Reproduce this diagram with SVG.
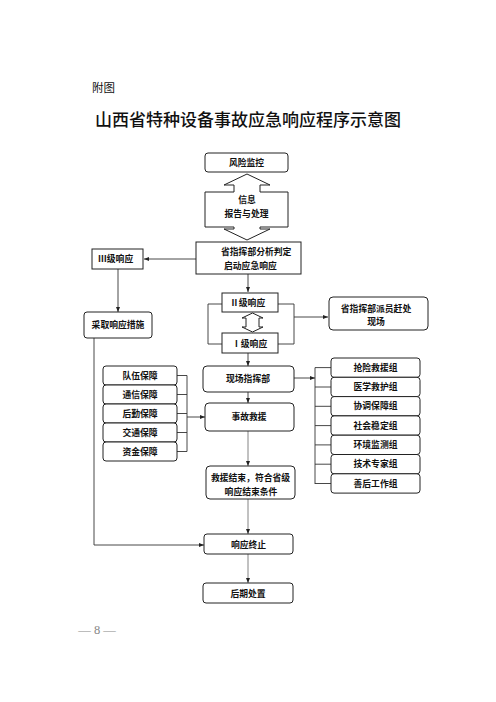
<svg xmlns="http://www.w3.org/2000/svg" width="496" height="702" viewBox="0 0 496 702">
<style>
.t{font-family:"Noto Sans CJK SC","Noto Sans CJK JP",sans-serif;font-size:8.8px;font-weight:bold;fill:#111}
.c{text-anchor:middle}
.b{fill:#fff;stroke:#222;stroke-width:1}
.l{fill:none;stroke:#333;stroke-width:0.9}
.g{fill:none;stroke:#777;stroke-width:0.9}
</style>
<defs>
<marker id="a" viewBox="0 0 10 10" refX="10" refY="5" markerWidth="5" markerHeight="5" markerUnits="userSpaceOnUse" orient="auto"><path d="M0,1 L10,5 L0,9 z" fill="#222"/></marker>
</defs>
<rect width="496" height="702" fill="#fff"/>
<text x="92" y="91.5" font-family="Noto Sans CJK SC,sans-serif" font-size="11.5" fill="#111">附图</text>
<text x="248" y="126" text-anchor="middle" font-family="Noto Sans CJK SC,sans-serif" font-size="17" font-weight="500" fill="#111">山西省特种设备事故应急响应程序示意图</text>

<g id="connectors">
<line class="l" x1="196" y1="259" x2="144" y2="259" marker-end="url(#a)"/>
<line class="l" x1="248" y1="274" x2="248" y2="292" marker-end="url(#a)"/>
<line class="l" x1="118" y1="269" x2="118" y2="312" marker-end="url(#a)"/>
<path class="l" d="M222 304 H208 V344 H222 M278 304 H294 V344 H278"/>
<line class="l" x1="294" y1="317" x2="328" y2="317" marker-end="url(#a)"/>
<line class="l" x1="248" y1="353" x2="248" y2="366" marker-end="url(#a)"/>
<line class="l" x1="248" y1="392" x2="248" y2="403" marker-end="url(#a)"/>
<line class="g" x1="248" y1="431" x2="248" y2="466" marker-end="url(#a)"/>
<line class="g" x1="248" y1="499" x2="248" y2="534" marker-end="url(#a)"/>
<line class="g" x1="248" y1="554" x2="248" y2="583" marker-end="url(#a)"/>
<path class="l" d="M94 338 V545 H204" marker-end="url(#a)"/>
<path class="l" d="M177 375.5 H187 M177 394.5 H187 M177 413.5 H187 M177 432.5 H187 M177 451.5 H187 M187 375.5 V451.5"/>
<line class="l" x1="187" y1="417" x2="205" y2="417" marker-end="url(#a)"/>
<path class="l" d="M315 367.6 V484 M315 367.6 H331 M315 387 H331 M315 406.3 H331 M315 425.6 H331 M315 444.9 H331 M315 464.2 H331 M315 483.5 H331"/>
<line class="l" x1="294" y1="378" x2="315" y2="378" marker-end="url(#a)"/>
</g>

<g id="n-risk"><rect class="b" x="205" y="153" width="83" height="19" rx="3"/><text class="t c" x="246.5" y="166">风险监控</text></g>
<g id="n-info"><path class="b" d="M247 174 L270 185 L260 185 L260 192 L288 192 L288 227 L260 227 L260 229 L270 229 L247 240 L224 229 L234 229 L234 227 L205 227 L205 192 L234 192 L234 185 L224 185 Z"/><text class="t c" x="247" y="203">信息</text><text class="t c" x="246.5" y="216.5">报告与处理</text></g>
<g id="n-judge"><rect class="b" x="196" y="242" width="105" height="32"/><text class="t" x="221" y="255">省指挥部分析判定</text><text class="t" x="224" y="269">启动应急响应</text></g>
<g id="n-l3"><rect class="b" x="92" y="249" width="51" height="20"/><text class="t" x="98" y="262">Ⅲ级响应</text></g>
<g id="n-take"><rect class="b" x="84" y="312" width="68" height="26" rx="3"/><text class="t c" x="118" y="328">采取响应措施</text></g>
<g id="n-l2"><rect class="b" x="222" y="293" width="56" height="19"/><text class="t" x="230" y="306">Ⅱ级响应</text></g>
<g id="n-dbl"><path class="b" d="M252.5 313 L263 318 L259 318 L259 327 L263 327 L252.5 332 L242 327 L246 327 L246 318 L242 318 Z"/></g>
<g id="n-l1"><rect class="b" x="222" y="333" width="56" height="20"/><text class="t" x="232" y="346.5">Ⅰ级响应</text></g>
<g id="n-send"><rect class="b" x="329" y="297" width="99" height="33" rx="4"/><text class="t c" x="376" y="312">省指挥部派员赶处</text><text class="t c" x="376" y="325">现场</text></g>
<g id="n-site"><rect class="b" x="203" y="366" width="91" height="26" rx="4"/><text class="t c" x="248" y="382">现场指挥部</text></g>
<g id="n-rescue"><rect class="b" x="205" y="403" width="89" height="28" rx="4"/><text class="t c" x="249" y="420">事故救援</text></g>
<g id="n-end-cond"><rect class="b" x="206" y="466" width="89" height="33" rx="4"/><text class="t c" x="250.5" y="480.5">救援结束，符合省级</text><text class="t c" x="251" y="494.5">响应结束条件</text></g>
<g id="n-stop"><rect class="b" x="204" y="534" width="89" height="20" rx="3"/><text class="t c" x="248.5" y="548">响应终止</text></g>
<g id="n-after"><rect class="b" x="203" y="583" width="90" height="20" rx="3"/><text class="t c" x="248" y="597">后期处置</text></g>

<g id="n-s1"><rect class="b" x="103" y="366" width="74" height="19" rx="3"/><text class="t c" x="140" y="378.5">队伍保障</text></g>
<g id="n-s2"><rect class="b" x="103" y="385" width="74" height="19" rx="3"/><text class="t c" x="140" y="397.5">通信保障</text></g>
<g id="n-s3"><rect class="b" x="103" y="404" width="74" height="19" rx="3"/><text class="t c" x="140" y="416.5">后勤保障</text></g>
<g id="n-s4"><rect class="b" x="103" y="423" width="74" height="19" rx="3"/><text class="t c" x="140" y="435.5">交通保障</text></g>
<g id="n-s5"><rect class="b" x="103" y="442" width="74" height="19" rx="3"/><text class="t c" x="140" y="454.5">资金保障</text></g>

<g id="n-g1"><rect class="b" x="331" y="358" width="89" height="19.3" rx="3"/><text class="t c" x="375.5" y="370.8">抢险救援组</text></g>
<g id="n-g2"><rect class="b" x="331" y="377.3" width="89" height="19.3" rx="3"/><text class="t c" x="375.5" y="390.1">医学救护组</text></g>
<g id="n-g3"><rect class="b" x="331" y="396.6" width="89" height="19.3" rx="3"/><text class="t c" x="375.5" y="409.4">协调保障组</text></g>
<g id="n-g4"><rect class="b" x="331" y="415.9" width="89" height="19.3" rx="3"/><text class="t c" x="375.5" y="428.7">社会稳定组</text></g>
<g id="n-g5"><rect class="b" x="331" y="435.2" width="89" height="19.3" rx="3"/><text class="t c" x="375.5" y="448">环境监测组</text></g>
<g id="n-g6"><rect class="b" x="331" y="454.5" width="89" height="19.3" rx="3"/><text class="t c" x="375.5" y="467.3">技术专家组</text></g>
<g id="n-g7"><rect class="b" x="331" y="473.8" width="89" height="19.3" rx="3"/><text class="t c" x="375.5" y="486.6">善后工作组</text></g>

<text x="97" y="634" text-anchor="middle" font-family="Liberation Serif,serif" font-size="12.5" fill="#888">— 8 —</text>
</svg>
